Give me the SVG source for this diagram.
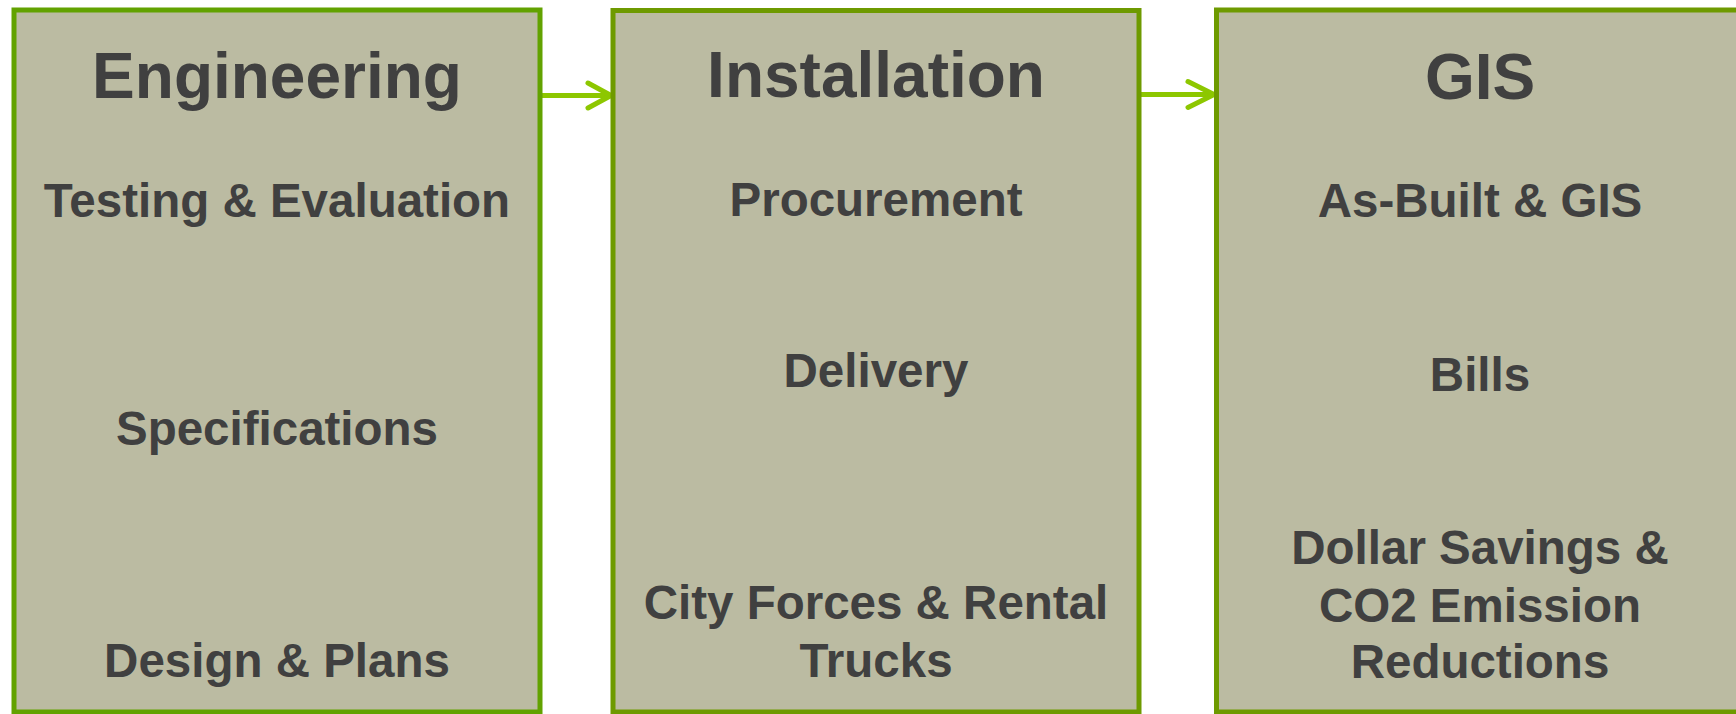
<svg xmlns="http://www.w3.org/2000/svg" width="1736" height="714" viewBox="0 0 1736 714">
<style>
.box{fill:#bbbba2;stroke-width:5}
.b1{stroke:#62a200}
.b2{stroke:#6e9a00}
.h{font-family:"Liberation Sans",Arial,sans-serif;font-weight:bold;font-size:64px;fill:#404040;text-anchor:middle}
.t{font-family:"Liberation Sans",Arial,sans-serif;font-weight:bold;font-size:47.5px;fill:#404040;text-anchor:middle}
.c{fill:none;stroke:#8dc700;stroke-width:5;stroke-linecap:round;stroke-linejoin:round}
</style>
<rect width="1736" height="714" fill="#ffffff"/>
<g id="connectors">
<line class="c" x1="542" y1="95.5" x2="609" y2="95.5"/>
<polyline class="c" points="588,83 611,95.5 588,108"/>
<line class="c" x1="1141" y1="94.5" x2="1212" y2="94.5"/>
<polyline class="c" points="1188,81.5 1214,94.5 1188,107.5"/>
</g>
<g id="engineering">
<rect class="box b1" x="14" y="10" width="526" height="702"/>
<text class="h" x="277" y="98">Engineering</text>
<text class="t" x="277" y="217">Testing &amp; Evaluation</text>
<text class="t" x="277" y="445">Specifications</text>
<text class="t" x="277" y="677">Design &amp; Plans</text>
</g>
<g id="installation">
<rect class="box b2" x="613" y="10.5" width="526" height="701.5"/>
<text class="h" x="876" y="97">Installation</text>
<text class="t" x="876" y="216">Procurement</text>
<text class="t" x="876" y="387">Delivery</text>
<text class="t" x="876" y="619">City Forces &amp; Rental</text>
<text class="t" x="876" y="677">Trucks</text>
</g>
<g id="gis">
<rect class="box b2" x="1216.5" y="10" width="540" height="702"/>
<text class="h" x="1480" y="99">GIS</text>
<text class="t" x="1480" y="217">As-Built &amp; GIS</text>
<text class="t" x="1480" y="391">Bills</text>
<text class="t" x="1480" y="564">Dollar Savings &amp;</text>
<text class="t" x="1480" y="621.5">CO2 Emission</text>
<text class="t" x="1480" y="678">Reductions</text>
</g>
</svg>
